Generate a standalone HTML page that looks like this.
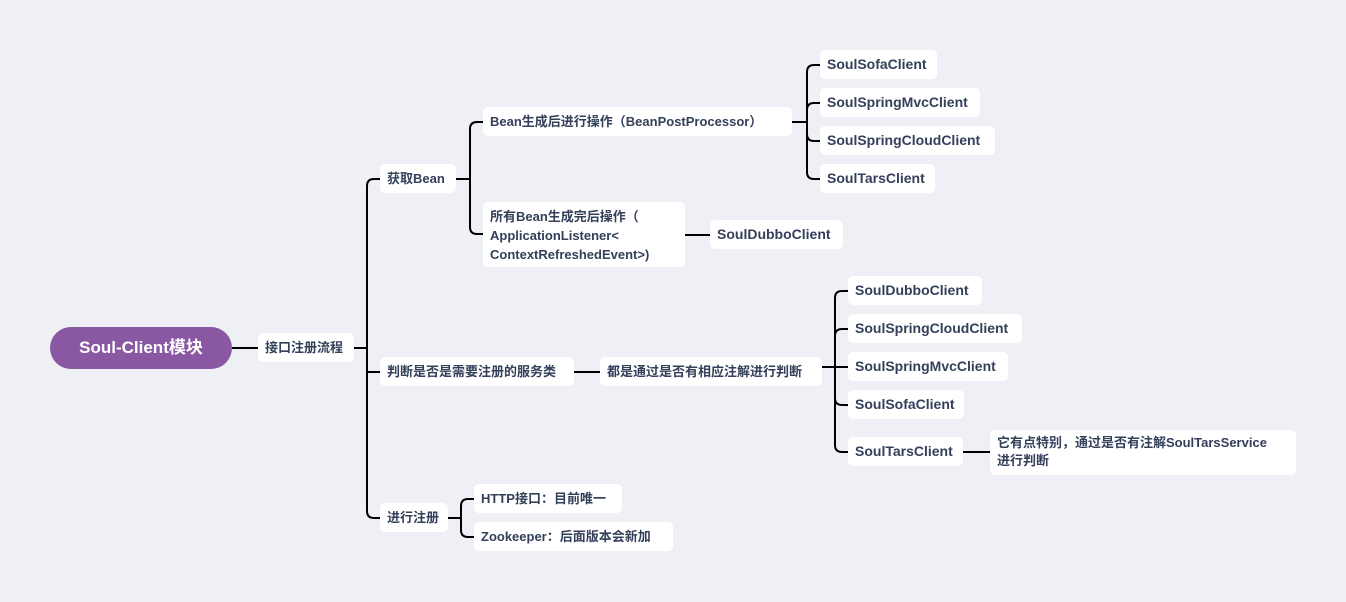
<!DOCTYPE html>
<html><head><meta charset="utf-8"><style>
body{margin:0;width:1346px;height:602px;background:#eff0f5;position:relative;overflow:hidden;font-family:"Liberation Sans","Noto Sans CJK SC",sans-serif;}
.n{position:absolute;background:#fff;border-radius:5px;color:#34405a;font-size:14px;font-weight:bold;height:29px;line-height:29px;padding-left:7px;box-sizing:border-box;white-space:nowrap;}
svg{position:absolute;left:0;top:0}
</style></head><body>
<svg width="1346" height="602" fill="none" stroke="#000" stroke-width="2">
<path d="M232 348H258"/>
<path d="M354 348H367"/>
<path d="M367 186Q367 179 374 179H380M367 186V511Q367 518 374 518H380M367 372H380"/>
<path d="M456 179H470M470 129Q470 122 477 122H483M470 129V227Q470 234 477 234H483"/>
<path d="M792 122H807M807 72Q807 65 814 65H820M807 72V172Q807 179 814 179H820M807 110Q807 103 814 103H820M807 134Q807 141 814 141H820"/>
<path d="M685 235H710"/>
<path d="M574 372H600"/>
<path d="M822 367H835M835 298Q835 291 842 291H848M835 298V445Q835 452 842 452H848M835 336Q835 329 842 329H848M835 367H848M835 398Q835 405 842 405H848"/>
<path d="M963 452H990"/>
<path d="M448 518H461M461 506Q461 499 468 499H474M461 506V530Q461 537 468 537H474"/>
</svg>
<div style="position:absolute;left:50px;top:327px;width:182px;height:42px;border-radius:21px;background:#8a58a3;color:#fff;font-weight:bold;font-size:17px;line-height:42px;text-align:center;">Soul-Client模块</div>
<div class="n" style="left:258px;top:333px;width:96px;font-size:13px;">接口注册流程</div>
<div class="n" style="left:380px;top:164px;width:76px;font-size:13px;">获取Bean</div>
<div class="n" style="left:380px;top:357px;width:194px;font-size:13px;">判断是否是需要注册的服务类</div>
<div class="n" style="left:380px;top:503px;width:68px;font-size:13px;">进行注册</div>
<div class="n" style="left:483px;top:107px;width:309px;font-size:13px;">Bean生成后进行操作（BeanPostProcessor）</div>
<div class="n" style="left:483px;top:202px;width:202px;height:65px;line-height:19px;padding-top:5px;font-size:13px;">所有Bean生成完后操作（<br>ApplicationListener&lt;<br>ContextRefreshedEvent&gt;)</div>
<div class="n" style="left:710px;top:220px;width:133px;">SoulDubboClient</div>
<div class="n" style="left:820px;top:50px;width:117px;">SoulSofaClient</div>
<div class="n" style="left:820px;top:88px;width:160px;">SoulSpringMvcClient</div>
<div class="n" style="left:820px;top:126px;width:175px;">SoulSpringCloudClient</div>
<div class="n" style="left:820px;top:164px;width:115px;">SoulTarsClient</div>
<div class="n" style="left:600px;top:357px;width:222px;font-size:13px;">都是通过是否有相应注解进行判断</div>
<div class="n" style="left:848px;top:276px;width:134px;">SoulDubboClient</div>
<div class="n" style="left:848px;top:314px;width:174px;">SoulSpringCloudClient</div>
<div class="n" style="left:848px;top:352px;width:160px;">SoulSpringMvcClient</div>
<div class="n" style="left:848px;top:390px;width:116px;">SoulSofaClient</div>
<div class="n" style="left:848px;top:437px;width:115px;">SoulTarsClient</div>
<div class="n" style="left:990px;top:430px;width:306px;height:45px;line-height:18px;padding-top:4px;font-size:13px;">它有点特别，通过是否有注解SoulTarsService<br>进行判断</div>
<div class="n" style="left:474px;top:484px;width:148px;font-size:13px;">HTTP接口：目前唯一</div>
<div class="n" style="left:474px;top:522px;width:199px;font-size:13px;">Zookeeper：后面版本会新加</div>
</body></html>
